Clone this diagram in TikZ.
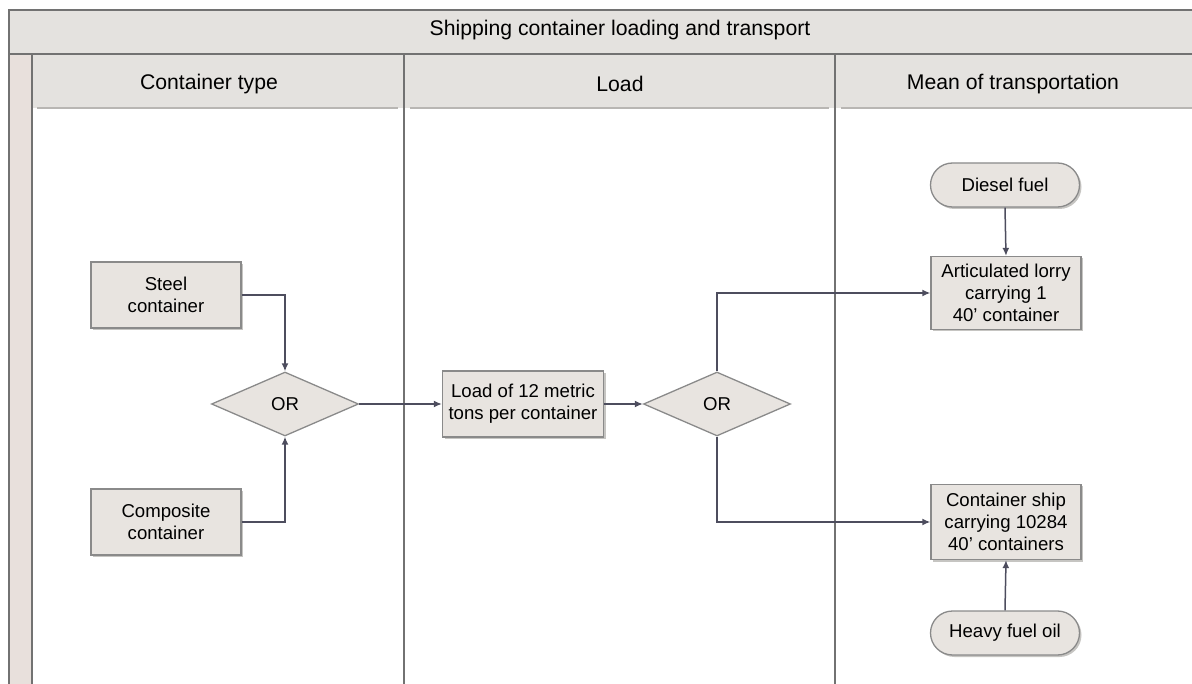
\documentclass[tikz,border=0pt]{standalone}
\usepackage{fontspec}
\setmainfont{Liberation Sans}
\usetikzlibrary{shapes.geometric,shadows,arrows.meta}
\definecolor{bandfill}{HTML}{E4E2DF}
\definecolor{stripfill}{HTML}{E8E0DC}
\definecolor{framecol}{HTML}{727272}
\definecolor{boxfill}{HTML}{E8E4E0}
\definecolor{boxdraw}{HTML}{8A8A8A}
\definecolor{linkcol}{HTML}{4D4D5E}
\definecolor{shadowcol}{HTML}{B8B6B3}
\tikzset{
  bodytext/.style={font=\fontsize{18.6}{22}\selectfont, align=center, text=black},
  headtext/.style={font=\fontsize{21.2}{24}\selectfont, text=black},
  procbox/.style={bodytext, draw=boxdraw, fill=boxfill, line width=1.3pt, minimum width=150pt, minimum height=66pt, inner sep=2pt,
    drop shadow={shadow xshift=2pt, shadow yshift=-2pt, fill=shadowcol, opacity=0.8}},
  decbox/.style={bodytext, diamond, aspect=2.3, draw=boxdraw, fill=boxfill, line width=1.3pt, minimum width=147pt, minimum height=64pt, inner sep=0pt},
  termbox/.style={bodytext, draw=boxdraw, fill=boxfill, line width=1.3pt, rounded corners=22pt, minimum width=149pt, minimum height=44pt,
    drop shadow={shadow xshift=2pt, shadow yshift=-2pt, fill=shadowcol, opacity=0.8}},
  link/.style={draw=linkcol, line width=1.5pt, -{Latex[length=8pt,width=7pt]}},
  frameline/.style={draw=framecol, line width=1.6pt},
}
\begin{document}
\begin{tikzpicture}[x=1pt,y=-1pt]
\useasboundingbox (0,0) rectangle (1192,684);
% bands
\fill[bandfill] (9,10) rectangle (1192,54);
\fill[stripfill] (9,54) rectangle (32,684);
\fill[bandfill] (32,54) rectangle (1192,108);
\draw[shadowcol, line width=2.5pt] (37,108) -- (398,108);
\draw[shadowcol, line width=2.5pt] (410,108) -- (829,108);
\draw[shadowcol, line width=2.5pt] (841,108) -- (1192,108);
% frame
\draw[frameline] (1192,10) -- (9,10) -- (9,684);
\draw[frameline] (9,54) -- (1192,54);
\draw[frameline] (32,54) -- (32,684);
\draw[frameline] (404,54) -- (404,684);
\draw[frameline] (835,54) -- (835,684);
% headers
\node[headtext] (title) at (620,30) {Shipping container loading and transport};
\node[headtext] (h1) at (209,84) {Container type};
\node[headtext] (h2) at (620,84) {Load};
\node[headtext] (h3) at (1013,84) {Mean of transportation};
% nodes
\node[procbox] (steel) at (166,295) {Steel\\container};
\node[procbox] (comp) at (166,522) {Composite\\container};
\node[decbox] (or1) at (285,404) {OR};
\node[procbox, minimum width=161pt] (load) at (523,404) {Load of 12 metric\\tons per container};
\node[decbox] (or2) at (717,404) {OR};
\node[termbox] (diesel) at (1005,185) {Diesel fuel};
\node[procbox, minimum height=73pt] (lorry) at (1006,293) {Articulated lorry\\carrying 1\\40’ container};
\node[procbox, minimum height=75pt] (ship) at (1006,522) {Container ship\\carrying 10284\\40’ containers};
\node[termbox] (heavy) at (1005,633) {Heavy fuel oil};
% connectors
\draw[link] (steel.east) -| (or1.north);
\draw[link] (comp.east) -| (or1.south);
\draw[link] (or1.east) -- (load.west);
\draw[link] (load.east) -- (or2.west);
\draw[link] (or2.north) |- (lorry.west);
\draw[link] (or2.south) |- (ship.west);
\draw[link] (diesel.south) -- (lorry.north);
\draw[link] (heavy.north) -- (ship.south);
\end{tikzpicture}
\end{document}
